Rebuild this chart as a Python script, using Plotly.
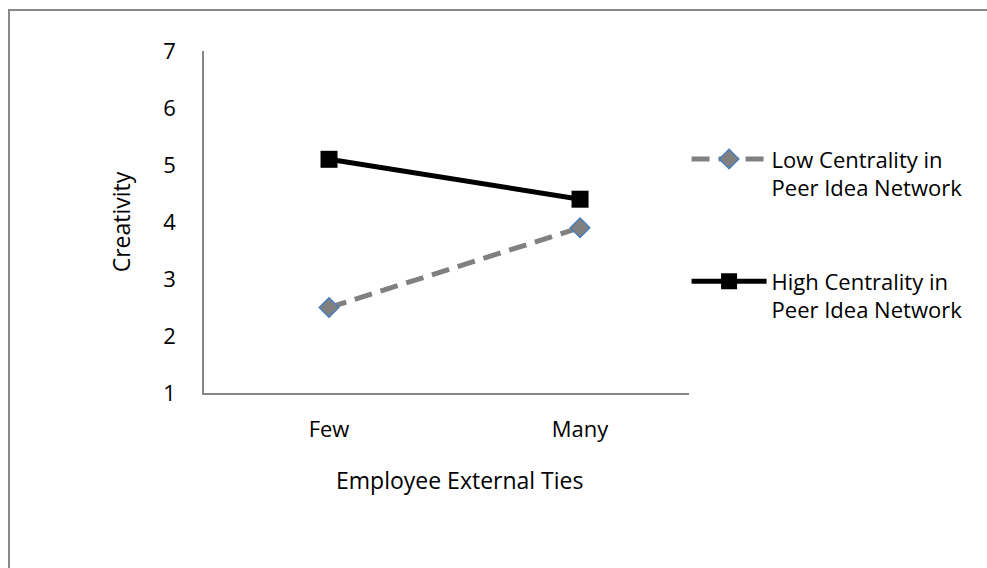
import plotly.graph_objects as go

categories = ["Few", "Many"]
x_pos = [0, 1]
low_vals = [2.5, 3.9]
high_vals = [5.1, 4.4]
y_ticks = [1, 2, 3, 4, 5, 6, 7]

FONT = "Open Sans"

fig = go.Figure()
fig.add_trace(go.Scatter(
    x=x_pos, y=low_vals, mode="lines+markers",
    name="Low Centrality in<br>Peer Idea Network",
    line=dict(color="#808080", width=5, dash="18px,9px"),
    marker=dict(symbol="diamond", size=15, color="#808080",
                line=dict(color="#4a7ebb", width=1.5)),
    legendgroup="a",
))
fig.add_trace(go.Scatter(
    x=x_pos, y=high_vals, mode="lines+markers",
    name="High Centrality in<br>Peer Idea Network",
    line=dict(color="#000000", width=5),
    marker=dict(symbol="square", size=17, color="#000000"),
    legendgroup="b",
))

fig.update_layout(
    width=987, height=568,
    margin=dict(l=204, r=298, t=51, b=175),
    paper_bgcolor="white", plot_bgcolor="white",
    font=dict(family=FONT, size=22, color="#000000"),
    showlegend=True,
    legend=dict(x=0.995, y=0.745, xanchor="left", yanchor="top",
                tracegroupgap=62, itemwidth=75, valign="top",
                font=dict(family=FONT, size=22, color="#000000"),
                bgcolor="rgba(0,0,0,0)"),
    xaxis=dict(range=[-0.498, 1.434], tickvals=x_pos, ticktext=categories,
               showgrid=False, zeroline=False, showline=True,
               linecolor="#868686", linewidth=1.5, ticks="",
               ticklabelstandoff=16),
    yaxis=dict(range=[1, 7], tickvals=y_ticks, showgrid=False, zeroline=False,
               showline=True, linecolor="#868686", linewidth=1.5, ticks="",
               ticklabelstandoff=22,
               title=dict(text="Creativity", standoff=26, font=dict(size=23))),
    annotations=[dict(text="Employee External Ties", xref="paper", yref="paper",
                      x=(459 - 204) / 485, y=-(480 - 393) / 342,
                      xanchor="center", yanchor="middle", showarrow=False,
                      font=dict(family=FONT, size=23, color="#000000"))],
    shapes=[dict(type="rect", xref="paper", yref="paper",
                 x0=-195/485, x1=1.7, y0=-0.8, y1=(393 - 10) / 342,
                 line=dict(color="#898989", width=2), layer="below")],
)

fig.write_html("out.html")
